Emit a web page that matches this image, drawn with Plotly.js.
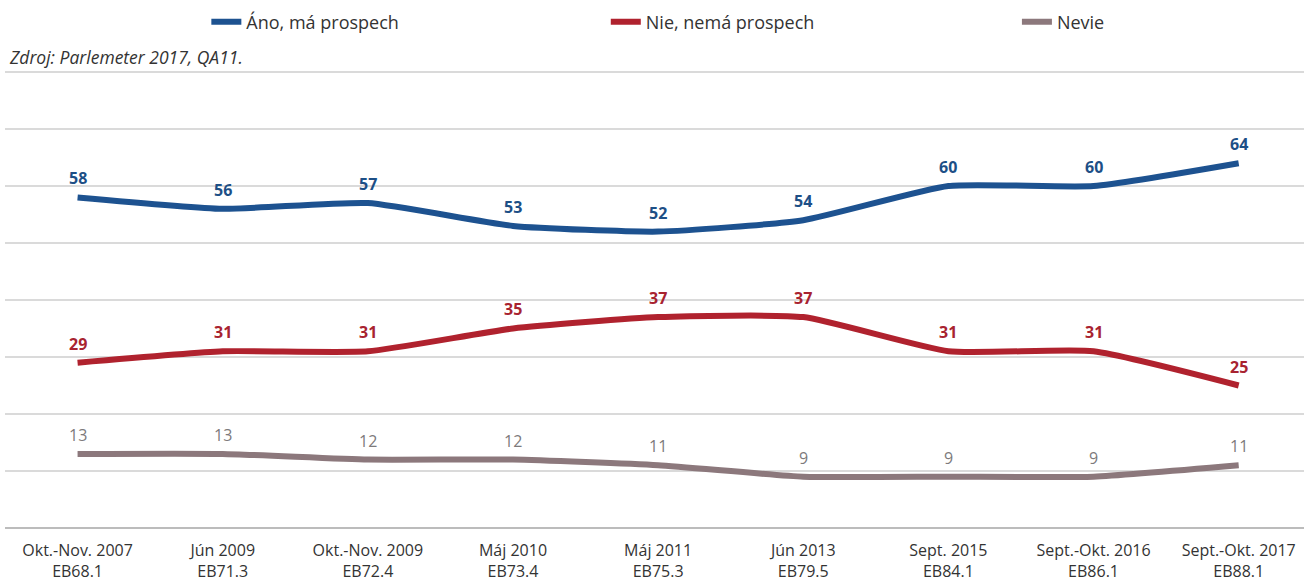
<!DOCTYPE html>
<html>
<head>
<meta charset="utf-8">
<script src="https://cdn.plot.ly/plotly-3.0.1.min.js"></script>
<style>html,body{margin:0;padding:0;background:#fff;}#chart{width:1304px;height:583px;}</style>
</head>
<body>
<div id="chart"></div>
<script>
const categories = ["Okt.-Nov. 2007","Jún 2009","Okt.-Nov. 2009","Máj 2010","Máj 2011","Jún 2013","Sept. 2015","Sept.-Okt. 2016","Sept.-Okt. 2017"];
const waves = ["EB68.1","EB71.3","EB72.4","EB73.4","EB75.3","EB79.5","EB84.1","EB86.1","EB88.1"];
const ano = [58,56,57,53,52,54,60,60,64];
const nie = [29,31,31,35,37,37,31,31,25];
const nevie = [13,13,12,12,11,9,9,9,11];
const seriesNames = ["Áno, má prospech","Nie, nemá prospech","Nevie"];
const colors = ["#1d5290","#b0222e","#8c787c"];
const labelColors = ["#1d4f86","#a82330","#7d7a7b"];
const source = "Zdroj: Parlemeter 2017, QA11.";

const xs = categories.map((c,i)=>i);
const tickText = categories.map((c,i)=>c+"<br>"+waves[i]);
const series = [ano, nie, nevie];
const legendIds = ["legend","legend2","legend3"];

const traces = series.map((vals,k)=>({
  x: xs, y: vals, type: "scatter", mode: "lines",
  name: seriesNames[k],
  legend: legendIds[k],
  line: {color: colors[k], width: 6, shape: "spline", smoothing: 0.5},
  hoverinfo: "skip"
}));

const annotations = [];
series.forEach((vals,k)=>{
  vals.forEach((v,i)=>{
    annotations.push({
      x: xs[i], y: v, xref: "x", yref: "y", text: k<2 ? "<b>"+v+"</b>" : String(v),
      showarrow: false, yshift: 19, yanchor: "middle",
      font: {family: "Open Sans", size: 16, color: labelColors[k]}
    });
  });
});
annotations.push({
  xref: "paper", yref: "paper", x: 0.0015, y: 1.0195, xanchor: "left", yanchor: "middle",
  text: "<i>"+source+"</i>", showarrow: false,
  font: {family: "Open Sans", size: 17.5, color: "#333333"}
});

const legendBase = {orientation: "h", yanchor: "middle", y: 1.095, xanchor: "left",
  bgcolor: "rgba(0,0,0,0)", borderwidth: 0,
  font: {family: "Open Sans", size: 18, color: "#333333"}};

const layout = {
  width: 1304, height: 583,
  margin: {l: 5, r: 0, t: 66, b: 55, pad: 0},
  paper_bgcolor: "#ffffff", plot_bgcolor: "#ffffff",
  font: {family: "Open Sans", color: "#333333"},
  legend: Object.assign({}, legendBase, {x: 0.155}),
  legend2: Object.assign({}, legendBase, {x: 0.4625}),
  legend3: Object.assign({}, legendBase, {x: 0.779}),
  xaxis: {
    range: [-0.5, 8.45], tickmode: "array", tickvals: xs, ticktext: tickText,
    showgrid: false, zeroline: false, showline: false, ticks: "",
    tickfont: {family: "Open Sans", size: 16, color: "#333333"},
    ticklabelstandoff: 11, fixedrange: true
  },
  yaxis: {
    range: [0, 81.05], dtick: 10, tick0: 0, showticklabels: false,
    showgrid: true, gridcolor: "#dadada", gridwidth: 2,
    zeroline: true, zerolinecolor: "#bcbcbc", zerolinewidth: 2,
    showline: false, ticks: "", fixedrange: true
  },
  annotations: annotations,
  showlegend: true
};

Plotly.newPlot("chart", traces, layout, {displayModeBar: false, staticPlot: true});
</script>
</body>
</html>
